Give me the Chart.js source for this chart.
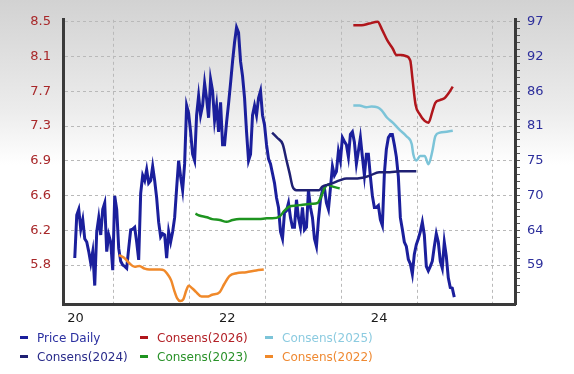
<!DOCTYPE html>
<html>
<head>
<meta charset="utf-8">
<script src="https://cdn.jsdelivr.net/npm/chart.js@4.4.1/dist/chart.umd.min.js"></script>
<style>
html, body { margin: 0; padding: 0; }
body {
    width: 574px; height: 374px; overflow: hidden; position: relative;
    background: linear-gradient(to bottom, #d2d2d2 0px, #ececec 110px, #ffffff 165px);
    font-family: "DejaVu Sans", Verdana, sans-serif;
}
#chart { position: absolute; left: 0; top: 0; }
.item { position: absolute; white-space: nowrap; font-size: 12px; line-height: 14px; }
.item i { display: inline-block; width: 8px; height: 3px; margin-right: 9px; vertical-align: middle; position: relative; top: -1px; }
</style>
</head>
<body>
<canvas id="chart" width="574" height="374"></canvas>
<div id="legend"></div>
<script>
// Price, daily-ish samples (right axis), first to last trading date
const priceStart = 2020.49;
const priceEnd = 2025.49;
const priceDaily = [
    60.1, 66.8, 67.7, 64.6, 66.1, 63.1, 62.6, 61.1, 59.3, 61.1, 55.8, 64.2, 66.4, 63.7, 67.7, 68.7, 61.1, 63.7, 62.6, 58.2,
    69.8, 67.7, 61.6, 59.6, 59.0, 58.8, 58.5, 61.6, 64.5, 64.6, 64.9, 62.6, 59.8, 70.2, 73.0, 72.2, 73.9, 71.8, 72.2, 74.4,
    72.2, 69.5, 65.7, 63.4, 63.9, 63.7, 60.1, 64.2, 62.6, 64.2, 66.4, 71.0, 75.3, 72.8, 70.7, 74.8, 83.9, 82.7, 79.8, 76.3,
    75.3, 82.4, 85.4, 82.4, 83.9, 87.4, 85.0, 82.0, 88.0, 86.2, 81.6, 83.9, 79.8, 84.4, 77.8, 77.8, 81.3, 84.2, 87.4, 90.8,
    93.8, 96.1, 95.3, 90.8, 88.5, 85.1, 79.8, 75.3, 76.3, 82.4, 83.9, 82.4, 85.1, 86.2, 82.4, 80.9, 77.8, 75.6, 74.8, 73.3,
    71.8, 69.5, 68.0, 64.2, 63.1, 67.2, 67.5, 68.7, 66.4, 64.9, 64.9, 69.2, 66.4, 64.9, 68.0, 64.5, 64.9, 70.7, 68.0, 66.4,
    63.1, 61.9, 66.1, 69.2, 70.7, 71.0, 68.7, 67.7, 71.0, 74.4, 73.0, 73.6, 76.8, 75.3, 78.9, 78.3, 77.8, 75.9, 79.4, 79.8,
    78.2, 74.8, 76.8, 78.9, 75.9, 73.0, 76.3, 76.3, 72.8, 69.8, 68.0, 68.0, 68.3, 66.1, 65.2, 73.3, 77.1, 78.9, 79.4, 79.4,
    77.8, 75.9, 72.8, 66.4, 64.6, 62.6, 61.9, 59.9, 59.2, 57.6, 60.7, 62.2, 63.1, 64.2, 65.7, 63.7, 58.8, 58.1, 58.8, 59.6,
    61.9, 63.9, 62.6, 59.6, 58.5, 62.6, 60.4, 57.0, 55.5, 55.4, 54.0
];

// Consensus EPS estimates (left axis)
const cons2026Dates = [2024.16, 2024.27, 2024.37, 2024.48, 2024.54, 2024.61, 2024.68, 2024.73, 2024.79, 2024.85, 2024.91,
    2024.94, 2024.98, 2025.03, 2025.10, 2025.15, 2025.20, 2025.24, 2025.30, 2025.36, 2025.41, 2025.47];
const cons2026 = [8.46, 8.46, 8.48, 8.50, 8.41, 8.29, 8.20, 8.13, 8.13, 8.12, 8.07,
    7.86, 7.58, 7.48, 7.40, 7.38, 7.50, 7.60, 7.63, 7.65, 7.70, 7.78];

const cons2025Dates = [2024.16, 2024.24, 2024.33, 2024.40, 2024.48, 2024.53, 2024.60, 2024.68, 2024.77, 2024.86, 2024.93,
    2024.95, 2024.99, 2025.04, 2025.10, 2025.15, 2025.20, 2025.24, 2025.30, 2025.39, 2025.47];
const cons2025 = [7.57, 7.57, 7.55, 7.56, 7.55, 7.52, 7.44, 7.38, 7.30, 7.23, 7.14,
    7.03, 6.96, 7.01, 7.01, 6.92, 7.06, 7.23, 7.27, 7.28, 7.29];

const cons2024Dates = [2023.09, 2023.16, 2023.23, 2023.28, 2023.32, 2023.36, 2023.41, 2023.49, 2023.58, 2023.71, 2023.75,
    2023.82, 2023.89, 2023.98, 2024.07, 2024.15, 2024.28, 2024.37, 2024.50, 2024.64, 2024.77, 2024.99];
const cons2024 = [7.27, 7.21, 7.14, 6.96, 6.82, 6.67, 6.63, 6.63, 6.63, 6.63, 6.67,
    6.69, 6.71, 6.74, 6.76, 6.76, 6.77, 6.79, 6.83, 6.83, 6.84, 6.84];

const cons2023Dates = [2022.08, 2022.13, 2022.23, 2022.30, 2022.40, 2022.49, 2022.57, 2022.66, 2022.79, 2022.92, 2023.02,
    2023.09, 2023.19, 2023.25, 2023.32, 2023.41, 2023.49, 2023.62, 2023.69, 2023.74, 2023.78, 2023.82, 2023.89, 2023.98];
const cons2023 = [6.37, 6.35, 6.33, 6.31, 6.30, 6.28, 6.30, 6.31, 6.31, 6.31, 6.32,
    6.32, 6.34, 6.40, 6.45, 6.46, 6.47, 6.48, 6.49, 6.57, 6.65, 6.69, 6.67, 6.65];

const cons2022Dates = [2021.07, 2021.14, 2021.21, 2021.28, 2021.34, 2021.41, 2021.47, 2021.61, 2021.67, 2021.71, 2021.76,
    2021.80, 2021.84, 2021.88, 2021.92, 2021.96, 2021.99, 2022.04, 2022.09, 2022.16, 2022.23, 2022.30, 2022.40, 2022.46,
    2022.53, 2022.62, 2022.75, 2022.88, 2022.98];
const cons2022 = [5.91, 5.88, 5.82, 5.78, 5.79, 5.76, 5.75, 5.75, 5.74, 5.70, 5.63,
    5.52, 5.43, 5.40, 5.42, 5.52, 5.57, 5.54, 5.50, 5.45, 5.45, 5.47, 5.50, 5.59,
    5.68, 5.71, 5.72, 5.74, 5.75];

// Tick labels
const xLabelYears = [2020, 2022, 2024];
const leftTickLabels = ['8.5', '8.1', '7.7', '7.3', '6.9', '6.6', '6.2', '5.8'];
const rightTickLabels = ['97', '92', '86', '81', '75', '70', '64', '59'];
const leftTop = 8.5, leftBottom = 5.8;
const rightTop = 97, rightBottom = 59;

const pts = (xs, ys) => ys.map((y, i) => ({x: xs[i], y: y}));
const priceStep = (priceEnd - priceStart) / (priceDaily.length - 1);
const pricePoints = priceDaily.map((y, i) => ({x: priceStart + i * priceStep, y: y}));

const series = [
    {label: 'Price Daily', data: pricePoints, color: '#1b1f9c', text: '#2a2fa0', axis: 'yR', width: 3, order: 1, row: 0, col: 0},
    {label: 'Consens(2026)', data: pts(cons2026Dates, cons2026), color: '#b0161c', text: '#b32228', axis: 'yL', width: 2.5, order: 0, row: 0, col: 1},
    {label: 'Consens(2025)', data: pts(cons2025Dates, cons2025), color: '#7cc4d8', text: '#8ccbe0', axis: 'yL', width: 2.5, order: 0, row: 0, col: 2},
    {label: 'Consens(2024)', data: pts(cons2024Dates, cons2024), color: '#1f2073', text: '#2a2c8a', axis: 'yL', width: 2.5, order: 0, row: 1, col: 0},
    {label: 'Consens(2023)', data: pts(cons2023Dates, cons2023), color: '#1e9420', text: '#2a922a', axis: 'yL', width: 2.5, order: 0, row: 1, col: 1},
    {label: 'Consens(2022)', data: pts(cons2022Dates, cons2022), color: '#f0892a', text: '#ef8a33', axis: 'yL', width: 2.5, order: 0, row: 1, col: 2}
];

const leftStep = (leftTop - leftBottom) / (leftTickLabels.length - 1);
const rightStep = (rightTop - rightBottom) / (rightTickLabels.length - 1);
const minorStep = rightStep / 5;
const gridColor = '#b9b9b9';
const axisColor = '#3a3a3a';
const tickFont = {family: 'DejaVu Sans', size: 13};

new Chart(document.getElementById('chart'), {
    type: 'line',
    data: {
        datasets: series.map(s => ({
            label: s.label,
            data: s.data,
            yAxisID: s.axis,
            borderColor: s.color,
            borderWidth: s.width,
            pointRadius: 0,
            fill: false,
            order: s.order,
            tension: s.axis === 'yL' ? 0.3 : 0,
            cubicInterpolationMode: s.axis === 'yL' ? 'monotone' : 'default'
        }))
    },
    options: {
        responsive: false,
        animation: false,
        layout: {padding: {top: 12, bottom: 50, left: 0, right: 0}},
        plugins: {legend: {display: false}, tooltip: {enabled: false}},
        scales: {
            x: {
                type: 'linear',
                min: 2020.335,
                max: 2026.29,
                afterFit: s => { s.height = 20; },
                afterBuildTicks: s => {
                    const t = [];
                    for (let v = Math.ceil(s.min * 2) / 2; v <= s.max; v += 0.5) t.push({value: v});
                    s.ticks = t;
                },
                grid: {
                    color: c => (c.tick && Number.isInteger(c.tick.value)) ? gridColor : 'rgba(0,0,0,0)',
                    drawTicks: false
                },
                border: {color: axisColor, width: 3, dash: [3, 3]},
                ticks: {
                    autoSkip: false,
                    maxRotation: 0,
                    padding: 7,
                    color: '#1a1a1a',
                    font: tickFont,
                    callback: v => {
                        const y = v - 0.5;
                        return xLabelYears.includes(y) ? String(y).slice(2) : '';
                    }
                }
            },
            yL: {
                position: 'left',
                min: leftBottom - leftStep * (40 / 35.7),
                max: leftTop + leftStep * (2 / 35.7),
                afterFit: s => { s.width = 63; },
                afterBuildTicks: s => {
                    s.ticks = leftTickLabels.map((l, i) => ({value: leftTop - i * leftStep}));
                },
                grid: {color: gridColor, drawTicks: false},
                border: {color: axisColor, width: 3, dash: [3, 3]},
                ticks: {
                    padding: 12,
                    color: '#a8282a',
                    font: tickFont,
                    callback: v => leftTickLabels[Math.round((leftTop - v) / leftStep)]
                }
            },
            yR: {
                position: 'right',
                min: rightBottom - rightStep * (40 / 35.7),
                max: rightTop + rightStep * (2 / 35.7),
                afterFit: s => { s.width = 59; },
                afterBuildTicks: s => {
                    const t = [];
                    for (let i = 0; rightTop - i * minorStep >= s.min; i++) t.push({value: rightTop - i * minorStep});
                    s.ticks = t;
                },
                grid: {drawOnChartArea: false, tickLength: 5, tickColor: '#555555', tickWidth: 1},
                border: {color: axisColor, width: 3},
                ticks: {
                    autoSkip: false,
                    padding: 7,
                    color: '#2d2f9c',
                    font: tickFont,
                    callback: v => {
                        const i = Math.round((rightTop - v) / minorStep);
                        return i % 5 === 0 ? rightTickLabels[i / 5] : '';
                    }
                }
            }
        }
    }
});

// Legend, two rows of three
const legendX = [20, 140, 265];
const legendY = [331, 350];
const legend = document.getElementById('legend');
series.forEach(s => {
    const d = document.createElement('div');
    d.className = 'item';
    d.style.left = legendX[s.col] + 'px';
    d.style.top = legendY[s.row] + 'px';
    d.style.color = s.text;
    d.innerHTML = '<i style="background:' + s.color + '"></i>' + s.label;
    legend.appendChild(d);
});
</script>
</body>
</html>
